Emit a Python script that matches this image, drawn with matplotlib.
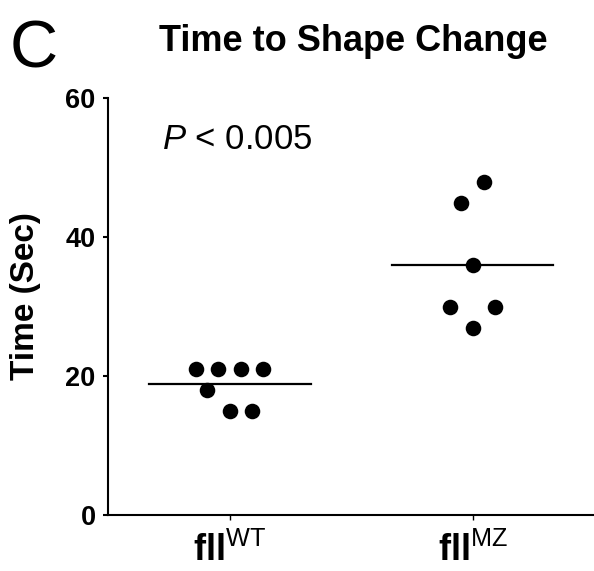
import matplotlib
matplotlib.use("Agg")
import matplotlib.pyplot as plt
import numpy as np

# values
groups = ["WT", "MZ"]
wt_times = [21, 21, 21, 21, 18, 15, 15]
mz_times = [48, 45, 36, 30, 30, 27]
# side-by-side slot of each dot in the scatter (in dot widths)
wt_slots = [-1.5, -0.5, 0.5, 1.5, -1, 0, 1]
mz_slots = [0.5, -0.5, 0, -1, 1, 0]
y_ticks = [0, 20, 40, 60]

plt.rcParams["font.family"] = ["Liberation Sans", "DejaVu Sans"]
plt.rcParams["mathtext.fontset"] = "custom"
plt.rcParams["mathtext.rm"] = "Liberation Sans"
plt.rcParams["mathtext.it"] = "Liberation Sans:italic"
plt.rcParams["mathtext.bf"] = "Liberation Sans:bold"

fig = plt.figure(figsize=(5.94, 5.71), dpi=100)
ax = fig.add_axes([0.1823, 0.0972, 0.8177, 0.7306])

slot_w = 0.0926
for i, (vals, slots) in enumerate([(wt_times, wt_slots), (mz_times, mz_slots)]):
    xs = i + np.array(slots) * slot_w
    ax.plot(xs, vals, "o", color="black", markersize=11.2, markeredgewidth=0)
    m = np.mean(vals)
    ax.plot([i - 0.333, i + 0.333], [m, m], color="black", lw=1.6)

ax.set_xlim(-0.5, 1.5)
ax.set_ylim(0, 60)
ax.set_yticks(y_ticks)
ax.set_yticklabels([str(t) for t in y_ticks], fontsize=19.5, fontweight="bold")
ax.set_xticks([0, 1])
ax.set_xticklabels([r"$\mathbf{fll}^{\mathrm{%s}}$" % g for g in groups], fontsize=26)

for s in ["top", "right"]:
    ax.spines[s].set_visible(False)
for s in ["left", "bottom"]:
    ax.spines[s].set_linewidth(1.5)
ax.tick_params(axis="y", length=3.6, width=1.5, pad=5.5)
ax.tick_params(axis="x", length=3.6, width=1.0, pad=9)

ax.text(-0.28, 52.7, r"$P$ < 0.005", fontsize=25, va="baseline", ha="left")

fig.text(0.594, 1 - 51 / 571, "Time to Shape Change", fontsize=26,
         fontweight="bold", ha="center", va="baseline")
fig.text(10 / 594, 1 - 67 / 571, "C", fontsize=48, ha="left", va="baseline")
fig.text(26 / 594, 1 - 296 / 571, "Time (Sec)", fontsize=24, fontweight="bold",
         rotation=90, ha="center", va="center")

fig.savefig("out.png", dpi=100)
